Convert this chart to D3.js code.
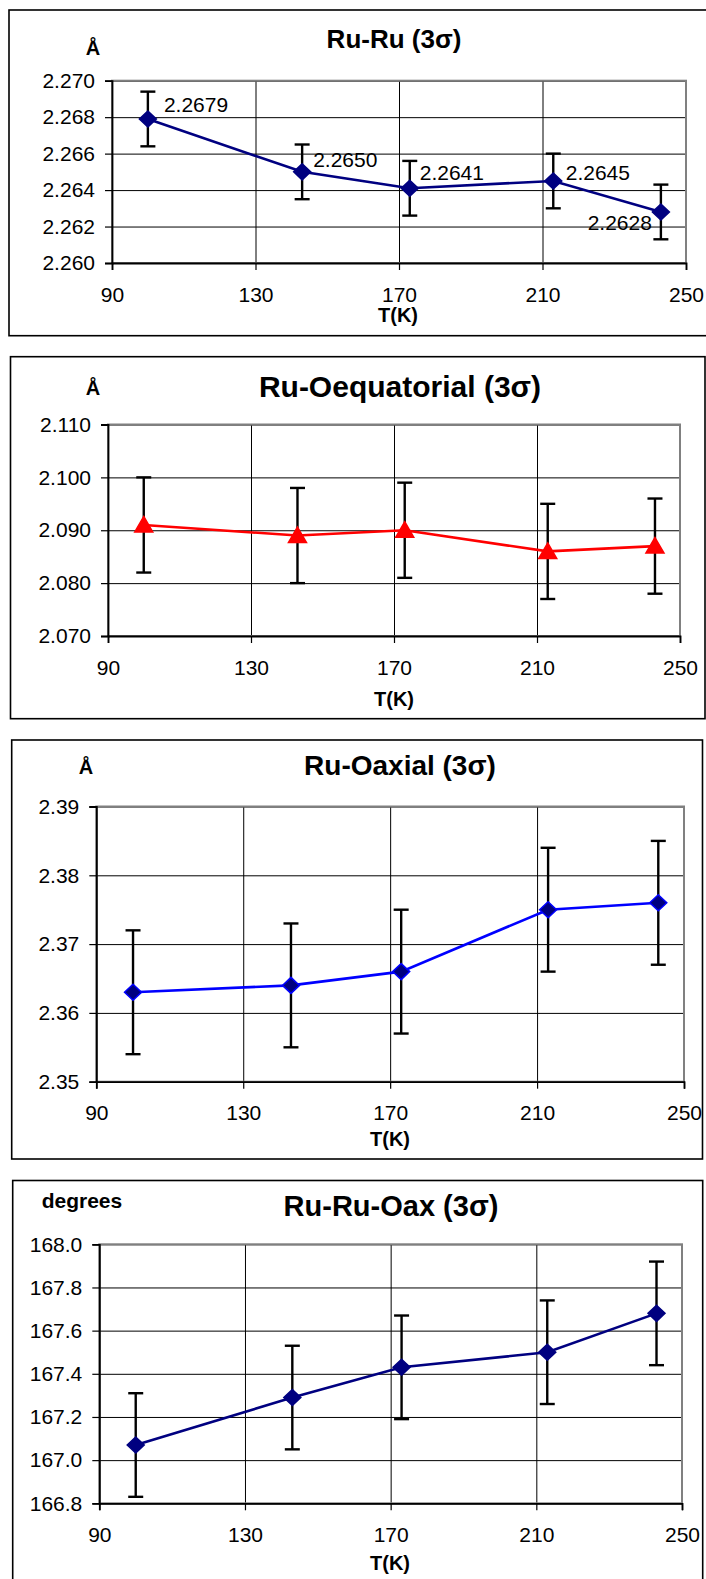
<!DOCTYPE html>
<html>
<head>
<meta charset="utf-8">
<script src="https://cdn.jsdelivr.net/npm/d3@7"></script>
<style>
  html, body { margin: 0; padding: 0; background: #fff; }
  svg { display: block; }
  text { font-family: "Liberation Sans", Arial, sans-serif; fill: #000; }
</style>
</head>
<body>
<svg id="chart" width="706" height="1579"></svg>
<script>
// ---------------- DATA ----------------
const temps = [100, 143, 173, 213, 243];
const xTickValues = [90, 130, 170, 210, 250];

const ruRuValues = [2.2679, 2.2650, 2.2641, 2.2645, 2.2628];
const ruRuErrors = [0.0015, 0.0015, 0.0015, 0.0015, 0.0015];
const ruRuTicks = [2.260, 2.262, 2.264, 2.266, 2.268, 2.270];
const ruRuLabels = ["2.2679", "2.2650", "2.2641", "2.2645", "2.2628"];

const ruOeqValues = [2.091, 2.089, 2.090, 2.086, 2.087];
const ruOeqErrors = [0.009, 0.009, 0.009, 0.009, 0.009];
const ruOeqTicks = [2.070, 2.080, 2.090, 2.100, 2.110];

const ruOaxValues = [2.363, 2.364, 2.366, 2.375, 2.376];
const ruOaxErrors = [0.009, 0.009, 0.009, 0.009, 0.009];
const ruOaxTicks = [2.35, 2.36, 2.37, 2.38, 2.39];

const angleValues = [167.07, 167.29, 167.43, 167.50, 167.68];
const angleErrors = [0.24, 0.24, 0.24, 0.24, 0.24];
const angleTicks = [166.8, 167.0, 167.2, 167.4, 167.6, 167.8, 168.0];

const titles = ["Ru-Ru (3\u03c3)", "Ru-Oequatorial (3\u03c3)", "Ru-Oaxial (3\u03c3)", "Ru-Ru-Oax (3\u03c3)"];
const unitLabels = ["\u00c5", "\u00c5", "\u00c5", "degrees"];
const xAxisTitle = "T(K)";

// ---------------- LAYOUT / STYLE ----------------
const FONT = '"Liberation Sans", Arial, sans-serif';
const panels = [
  {
    values: ruRuValues, errors: ruRuErrors, ticks: ruRuTicks, fmt: ".3f", labels: ruRuLabels,
    frame: {x: 9, y: 10, x2: 712, y2: 335.7},
    plot: {l: 112, r: 686, t: 80.7, b: 263},
    title: {x: 394, y: 48.3, size: 26}, unit: {x: 93, y: 55, size: 20, anchor: "middle"},
    xt: {x: 398, y: 322}, color: "#000080", markerFill: "#000080", markerStroke: "#000080", marker: "diamond",
    labelPos: [
      {dx: 16, dy: -6.5, a: "start"}, {dx: 11, dy: -5, a: "start"}, {dx: 10, dy: -8, a: "start"},
      {dx: 12.5, dy: -1, a: "start"}, {dx: -9, dy: 18, a: "end"}
    ]
  },
  {
    values: ruOeqValues, errors: ruOeqErrors, ticks: ruOeqTicks, fmt: ".3f",
    frame: {x: 10.5, y: 356.7, x2: 705, y2: 718.7},
    plot: {l: 108, r: 680, t: 424.5, b: 636},
    title: {x: 400, y: 396.7, size: 30}, unit: {x: 93, y: 395, size: 20, anchor: "middle"},
    xt: {x: 394, y: 706}, color: "#ff0000", markerFill: "#ff0000", markerStroke: "#ff0000", marker: "triangle"
  },
  {
    values: ruOaxValues, errors: ruOaxErrors, ticks: ruOaxTicks, fmt: ".2f",
    frame: {x: 11.7, y: 740, x2: 702.5, y2: 1159},
    plot: {l: 96.3, r: 684, t: 806.5, b: 1081.7},
    title: {x: 400, y: 775, size: 28}, unit: {x: 86, y: 774, size: 20, anchor: "middle"},
    xt: {x: 390, y: 1146}, color: "#0000ff", markerFill: "#000080", markerStroke: "#0000ff", marker: "diamond"
  },
  {
    values: angleValues, errors: angleErrors, ticks: angleTicks, fmt: ".1f",
    frame: {x: 12.7, y: 1180.5, x2: 702.7, y2: 1600},
    plot: {l: 99.3, r: 682, t: 1244.3, b: 1503.3},
    title: {x: 391, y: 1216, size: 29}, unit: {x: 41.7, y: 1207.7, size: 21, anchor: "start"},
    xt: {x: 390, y: 1570}, color: "#000080", markerFill: "#000080", markerStroke: "#000080", marker: "diamond"
  }
];

const svg = d3.select("#chart");

function markerPath(type) {
  if (type === "triangle") return "M0,-8.5L9,7L-9,7Z";
  return "M0,-8L8.5,0L0,8L-8.5,0Z";
}

panels.forEach((p, i) => {
  const g = svg.append("g");
  // outer frame
  g.append("rect")
    .attr("x", p.frame.x).attr("y", p.frame.y)
    .attr("width", p.frame.x2 - p.frame.x).attr("height", p.frame.y2 - p.frame.y)
    .attr("fill", "#fff").attr("stroke", "#000").attr("stroke-width", 1.6);

  const x = d3.scaleLinear().domain([90, 250]).range([p.plot.l, p.plot.r]);
  const y = d3.scaleLinear().domain(d3.extent(p.ticks)).range([p.plot.b, p.plot.t]);

  // horizontal gridlines
  g.append("g")
    .attr("transform", `translate(${p.plot.l},0)`)
    .call(d3.axisLeft(y).tickValues(p.ticks).tickSize(-(p.plot.r - p.plot.l)).tickFormat(""))
    .call(s => s.select(".domain").remove())
    .call(s => s.selectAll("line").attr("stroke", "#000").attr("stroke-width", 1));
  // vertical gridlines
  g.append("g")
    .attr("transform", `translate(0,${p.plot.b})`)
    .call(d3.axisBottom(x).tickValues(xTickValues).tickSize(-(p.plot.b - p.plot.t)).tickFormat(""))
    .call(s => s.select(".domain").remove())
    .call(s => s.selectAll("line").attr("stroke", "#000").attr("stroke-width", 1));

  // plot area border (grey)
  g.append("rect")
    .attr("x", p.plot.l).attr("y", p.plot.t)
    .attr("width", p.plot.r - p.plot.l).attr("height", p.plot.b - p.plot.t)
    .attr("fill", "none").attr("stroke", "#808080").attr("stroke-width", 2);

  // y axis
  const ya = g.append("g")
    .attr("transform", `translate(${p.plot.l},0)`)
    .call(d3.axisLeft(y).tickValues(p.ticks).tickSize(7).tickPadding(10).tickFormat(d3.format(p.fmt)));
  ya.select(".domain").attr("stroke", "#000").attr("stroke-width", 1.8);
  ya.selectAll(".tick line").attr("stroke", "#000").attr("stroke-width", 1.2);
  ya.selectAll(".tick text").attr("font-family", FONT).attr("font-size", 21).attr("fill", "#000");

  // x axis
  const xa = g.append("g")
    .attr("transform", `translate(0,${p.plot.b})`)
    .call(d3.axisBottom(x).tickValues(xTickValues).tickSize(7).tickFormat(d3.format("d")));
  xa.select(".domain").attr("stroke", "#000").attr("stroke-width", 1.8);
  xa.selectAll(".tick line").attr("stroke", "#000").attr("stroke-width", 1.2);
  xa.selectAll(".tick text").attr("font-family", FONT).attr("font-size", 21).attr("fill", "#000")
    .attr("dy", null).attr("y", 38.5);

  // titles
  g.append("text").attr("x", p.title.x).attr("y", p.title.y).attr("text-anchor", "middle")
    .attr("font-size", p.title.size).attr("font-weight", "bold").text(titles[i]);
  g.append("text").attr("x", p.unit.x).attr("y", p.unit.y).attr("text-anchor", p.unit.anchor)
    .attr("font-size", p.unit.size).attr("font-weight", "bold").text(unitLabels[i]);
  g.append("text").attr("x", p.xt.x).attr("y", p.xt.y).attr("text-anchor", "middle")
    .attr("font-size", 20).attr("font-weight", "bold").text(xAxisTitle);

  const pts = temps.map((t, k) => ({t, v: p.values[k], e: p.errors[k], k}));

  // series line
  g.append("path").datum(pts)
    .attr("d", d3.line().x(d => x(d.t)).y(d => y(d.v)))
    .attr("fill", "none").attr("stroke", p.color).attr("stroke-width", 2.6);

  // error bars
  const eb = g.append("g").selectAll("g").data(pts).join("g");
  eb.append("line")
    .attr("x1", d => x(d.t)).attr("x2", d => x(d.t))
    .attr("y1", d => y(d.v + d.e)).attr("y2", d => y(d.v - d.e))
    .attr("stroke", "#000").attr("stroke-width", 2.4);
  eb.append("line")
    .attr("x1", d => x(d.t) - 7.5).attr("x2", d => x(d.t) + 7.5)
    .attr("y1", d => y(d.v + d.e)).attr("y2", d => y(d.v + d.e))
    .attr("stroke", "#000").attr("stroke-width", 2.4);
  eb.append("line")
    .attr("x1", d => x(d.t) - 7.5).attr("x2", d => x(d.t) + 7.5)
    .attr("y1", d => y(d.v - d.e)).attr("y2", d => y(d.v - d.e))
    .attr("stroke", "#000").attr("stroke-width", 2.4);

  // markers
  g.append("g").selectAll("path").data(pts).join("path")
    .attr("transform", d => `translate(${x(d.t)},${y(d.v)})`)
    .attr("d", markerPath(p.marker))
    .attr("fill", p.markerFill).attr("stroke", p.markerStroke).attr("stroke-width", 1.5);

  // data labels
  if (p.labels) {
    g.append("g").selectAll("text").data(pts).join("text")
      .attr("x", d => x(d.t) + p.labelPos[d.k].dx)
      .attr("y", d => y(d.v) + p.labelPos[d.k].dy)
      .attr("text-anchor", d => p.labelPos[d.k].a)
      .attr("font-size", 21)
      .text(d => p.labels[d.k]);
  }
});
</script>
</body>
</html>
